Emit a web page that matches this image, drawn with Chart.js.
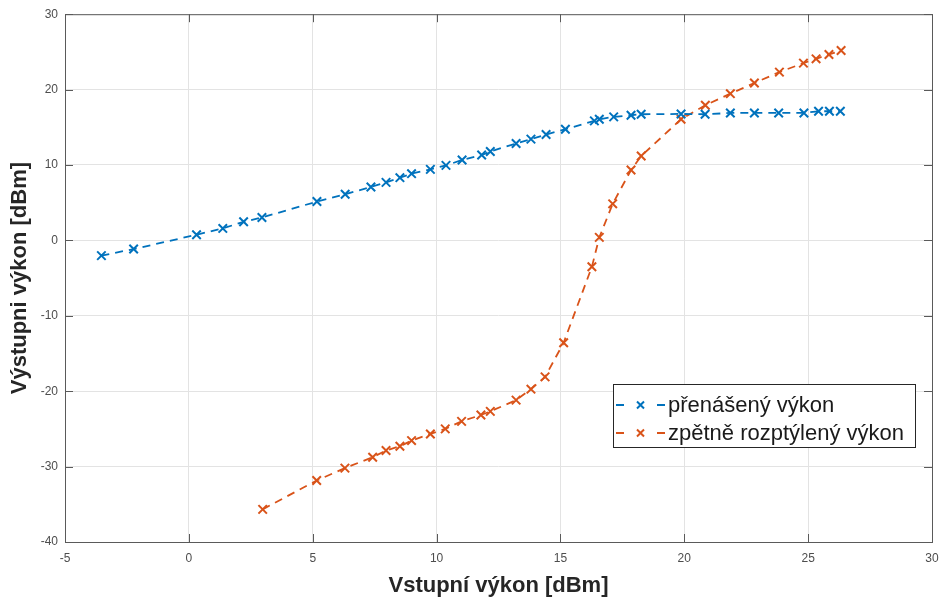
<!DOCTYPE html>
<html>
<head>
<meta charset="utf-8">
<script src="https://cdn.jsdelivr.net/npm/chart.js@4"></script>
<style>
  html, body { margin: 0; padding: 0; background: #fff; }
  #wrap { width: 944px; height: 599px; }
</style>
</head>
<body>
<div id="wrap"><canvas id="c" width="944" height="599"></canvas></div>
<script>
// input power [dBm] for each measurement
const inTransmitted = [-3.53, -2.23, 0.31, 1.37, 2.21, 2.95, 5.17, 6.31, 7.35, 7.96, 8.52, 8.99, 9.75, 10.38, 11.03, 11.82, 12.17, 13.21, 13.81, 14.42, 15.2, 16.37, 16.57, 17.15, 17.85, 18.26, 19.87, 20.84, 21.86, 22.83, 23.81, 24.83, 25.42, 25.86, 26.3];
const outTransmitted = [-2.02, -1.15, 0.75, 1.59, 2.47, 3.04, 5.15, 6.12, 7.09, 7.7, 8.32, 8.85, 9.42, 9.95, 10.66, 11.32, 11.8, 12.86, 13.43, 14.04, 14.75, 15.85, 16.07, 16.38, 16.6, 16.73, 16.77, 16.73, 16.9, 16.9, 16.9, 16.9, 17.13, 17.13, 17.13];

const inBackscatter = [2.98, 5.16, 6.3, 7.42, 7.96, 8.52, 8.99, 9.75, 10.35, 11.01, 11.79, 12.17, 13.21, 13.81, 14.38, 15.13, 16.27, 16.57, 17.11, 17.85, 18.26, 19.87, 20.85, 21.86, 22.83, 23.84, 24.81, 25.32, 25.84, 26.33];
const outBackscatter = [-35.67, -31.84, -30.2, -28.76, -27.87, -27.3, -26.55, -25.67, -25.0, -24.0, -23.16, -22.68, -21.18, -19.73, -18.1, -13.57, -3.5, 0.4, 4.85, 9.34, 11.19, 16.07, 17.92, 19.46, 20.87, 22.32, 23.51, 24.08, 24.66, 25.19];

const seriesNames = ['přenášený výkon', 'zpětně rozptýlený výkon'];
const seriesColors = ['#0072BD', '#D95319'];
const xTicks = [-5, 0, 5, 10, 15, 20, 25, 30];
const yTicks = [-40, -30, -20, -10, 0, 10, 20, 30];

const toPts = (xs, ys) => xs.map((x, i) => ({x, y: ys[i]}));
const AXIS = '#5a5a5a';
const FONT = 'Liberation Sans, Arial, sans-serif';

// box around plot + inner ticks on top/right like matlab
const boxPlugin = {
  id: 'box',
  afterDraw(chart) {
    const {ctx, chartArea: a, scales} = chart;
    ctx.save();
    ctx.strokeStyle = AXIS;
    ctx.lineWidth = 1;
    ctx.strokeRect(a.left + 0.5, a.top + 0.5, a.right - a.left, a.bottom - a.top);
    ctx.beginPath();
    xTicks.forEach(v => {
      const px = Math.round(scales.x.getPixelForValue(v)) + 0.5;
      ctx.moveTo(px, a.bottom); ctx.lineTo(px, a.bottom - 8);
      ctx.moveTo(px, a.top); ctx.lineTo(px, a.top + 8);
    });
    yTicks.forEach(v => {
      const py = Math.round(scales.y.getPixelForValue(v)) + 0.5;
      ctx.moveTo(a.left, py); ctx.lineTo(a.left + 8, py);
      ctx.moveTo(a.right, py); ctx.lineTo(a.right - 8, py);
    });
    ctx.stroke();
    ctx.restore();
  }
};

// legend box inside the axes, lower right
const legendPlugin = {
  id: 'boxLegend',
  afterDraw(chart) {
    const {ctx} = chart;
    const x0 = 613, y0 = 384, w = 302, h = 63;
    ctx.save();
    ctx.fillStyle = '#fff';
    ctx.fillRect(x0, y0, w, h);
    ctx.strokeStyle = '#262626';
    ctx.lineWidth = 1;
    ctx.strokeRect(x0 + 0.5, y0 + 0.5, w, h);
    ctx.font = '22px ' + FONT;
    ctx.textBaseline = 'middle';
    seriesNames.forEach((name, i) => {
      const cy = y0 + 21 + i * 28;
      ctx.strokeStyle = seriesColors[i];
      ctx.lineWidth = 2;
      // dash - marker - dash
      ctx.beginPath();
      ctx.moveTo(x0 + 3, cy); ctx.lineTo(x0 + 11, cy);
      ctx.moveTo(x0 + 44, cy); ctx.lineTo(x0 + 52, cy);
      ctx.moveTo(x0 + 24, cy - 3.5); ctx.lineTo(x0 + 31, cy + 3.5);
      ctx.moveTo(x0 + 31, cy - 3.5); ctx.lineTo(x0 + 24, cy + 3.5);
      ctx.stroke();
      ctx.fillStyle = '#1a1a1a';
      ctx.fillText(name, x0 + 55, cy + 1);
    });
    ctx.restore();
  }
};

const makeSet = (label, pts, color) => ({
  label, data: pts,
  borderColor: color, backgroundColor: color,
  borderWidth: 1.8, borderDash: [8, 6],
  pointStyle: 'crossRot', pointRadius: 6, pointBorderWidth: 2,
  pointHoverRadius: 6, tension: 0, fill: false
});

new Chart(document.getElementById('c'), {
  type: 'line',
  data: {
    datasets: [
      makeSet(seriesNames[0], toPts(inTransmitted, outTransmitted), seriesColors[0]),
      makeSet(seriesNames[1], toPts(inBackscatter, outBackscatter), seriesColors[1])
    ]
  },
  options: {
    responsive: false, animation: false,
    layout: {padding: {top: 11, right: 12, left: 0, bottom: 0}},
    plugins: {legend: {display: false}, tooltip: {enabled: false}},
    scales: {
      x: {
        type: 'linear', min: -5, max: 30,
        afterBuildTicks: s => { s.ticks = xTicks.map(v => ({value: v})); },
        afterFit: s => { s.height = 57; s.paddingLeft = 0; s.paddingRight = 0; },
        grid: {color: '#e3e3e3', drawTicks: false},
        border: {display: false},
        ticks: {color: '#4d4d4d', font: {family: FONT, size: 12}, padding: 9, maxRotation: 0},
        title: {display: true, text: 'Vstupní výkon [dBm]', color: '#262626',
                font: {family: FONT, size: 22, weight: 'bold'}, padding: {top: 0, bottom: 0}}
      },
      y: {
        type: 'linear', min: -40, max: 30,
        afterBuildTicks: s => { s.ticks = yTicks.map(v => ({value: v})); },
        afterFit: s => { s.width = 65; },
        grid: {color: '#e3e3e3', drawTicks: false},
        border: {display: false},
        ticks: {color: '#4d4d4d', font: {family: FONT, size: 12}, padding: 7},
        title: {display: true, text: 'Výstupni výkon [dBm]', color: '#262626',
                font: {family: FONT, size: 22, weight: 'bold'}, padding: {top: 7, bottom: 0}}
      }
    }
  },
  plugins: [boxPlugin, legendPlugin]
});
</script>
</body>
</html>
